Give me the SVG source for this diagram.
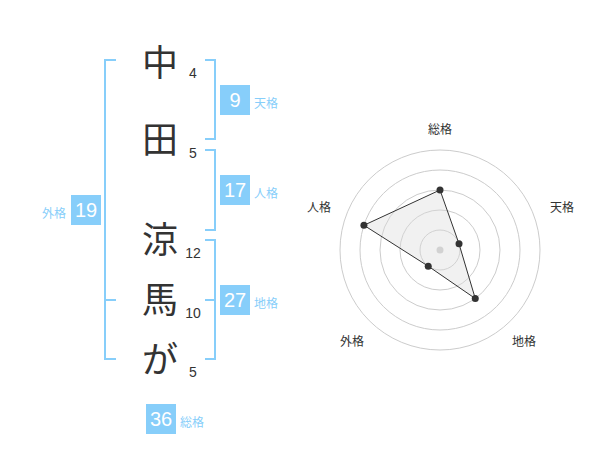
<svg xmlns="http://www.w3.org/2000/svg" width="600" height="470" viewBox="0 0 600 470">
<style>
.ch{font-family:"Noto Sans CJK JP","Noto Sans",sans-serif;font-size:36px;fill:#333;text-anchor:middle}
.st{font-family:"Liberation Sans",Arial,sans-serif;font-size:14px;fill:#333;text-anchor:middle}
.box{fill:#87cefa}
.bn{font-family:"Liberation Sans",Arial,sans-serif;font-size:20px;fill:#fff;text-anchor:middle}
.bl{font-family:"Noto Sans CJK JP","Noto Sans",sans-serif;font-size:12px;fill:#87cefa}
.br{fill:none;stroke:#87cefa;stroke-width:2}
.ring{fill:none;stroke:#ccc;stroke-width:1}
.rl{font-family:"Noto Sans CJK JP","Noto Sans",sans-serif;font-size:12px;fill:#333;text-anchor:middle}
.pt{fill:#333}
</style>
<rect width="600" height="470" fill="#fff"/>
<g id="connectors">
<path class="br" d="M116,60 H105 V359 H116 M105,300 H116"/>
<path class="br" d="M205,60 H215 V139 H205"/>
<path class="br" d="M205,150 H215 V230 H205"/>
<path class="br" d="M205,240 H215 V359 H205 M205,300 H215"/>
</g>
<g id="char-1"><text class="ch" x="160" y="76">中</text><text class="st" x="193" y="78">4</text></g>
<g id="char-2"><text class="ch" x="160" y="153">田</text><text class="st" x="193" y="158">5</text></g>
<g id="char-3"><text class="ch" x="160" y="253">涼</text><text class="st" x="193" y="258">12</text></g>
<g id="char-4"><text class="ch" x="160" y="313">馬</text><text class="st" x="193" y="318">10</text></g>
<g id="char-5"><text class="ch" x="160" y="373">が</text><text class="st" x="193" y="377">5</text></g>
<g id="tenkaku"><rect class="box" x="220" y="85" width="30" height="30"/><text class="bn" x="235" y="107">9</text><text class="bl" x="254" y="108">天格</text></g>
<g id="jinkaku"><rect class="box" x="220" y="175" width="30" height="30"/><text class="bn" x="235" y="197">17</text><text class="bl" x="254" y="198">人格</text></g>
<g id="chikaku"><rect class="box" x="220" y="285" width="30" height="30"/><text class="bn" x="235" y="307">27</text><text class="bl" x="254" y="308">地格</text></g>
<g id="gaikaku"><rect class="box" x="71" y="195" width="30" height="30"/><text class="bn" x="86" y="217">19</text><text class="bl" x="66" y="218" text-anchor="end">外格</text></g>
<g id="soukaku"><rect class="box" x="146" y="404" width="30" height="30"/><text class="bn" x="161" y="426">36</text><text class="bl" x="180" y="427">総格</text></g>
<g id="radar">
<circle class="ring" cx="440" cy="250" r="20"/>
<circle class="ring" cx="440" cy="250" r="40"/>
<circle class="ring" cx="440" cy="250" r="60"/>
<circle class="ring" cx="440" cy="250" r="80"/>
<circle class="ring" cx="440" cy="250" r="100"/>
<circle cx="440" cy="250" r="3.5" fill="#ccc"/>
<polygon points="440,190 459.02,243.82 475.27,298.54 428.24,266.18 363.92,225.28" fill="#ddd" fill-opacity="0.4" stroke="#333" stroke-width="1"/>
<circle class="pt" cx="440" cy="190" r="3.5"/>
<circle class="pt" cx="459.02" cy="243.82" r="3.5"/>
<circle class="pt" cx="475.27" cy="298.54" r="3.5"/>
<circle class="pt" cx="428.24" cy="266.18" r="3.5"/>
<circle class="pt" cx="363.92" cy="225.28" r="3.5"/>
<text class="rl" x="440" y="134">総格</text>
<text class="rl" x="562" y="212">天格</text>
<text class="rl" x="524" y="346">地格</text>
<text class="rl" x="352" y="346">外格</text>
<text class="rl" x="319" y="212">人格</text>
</g>
</svg>
